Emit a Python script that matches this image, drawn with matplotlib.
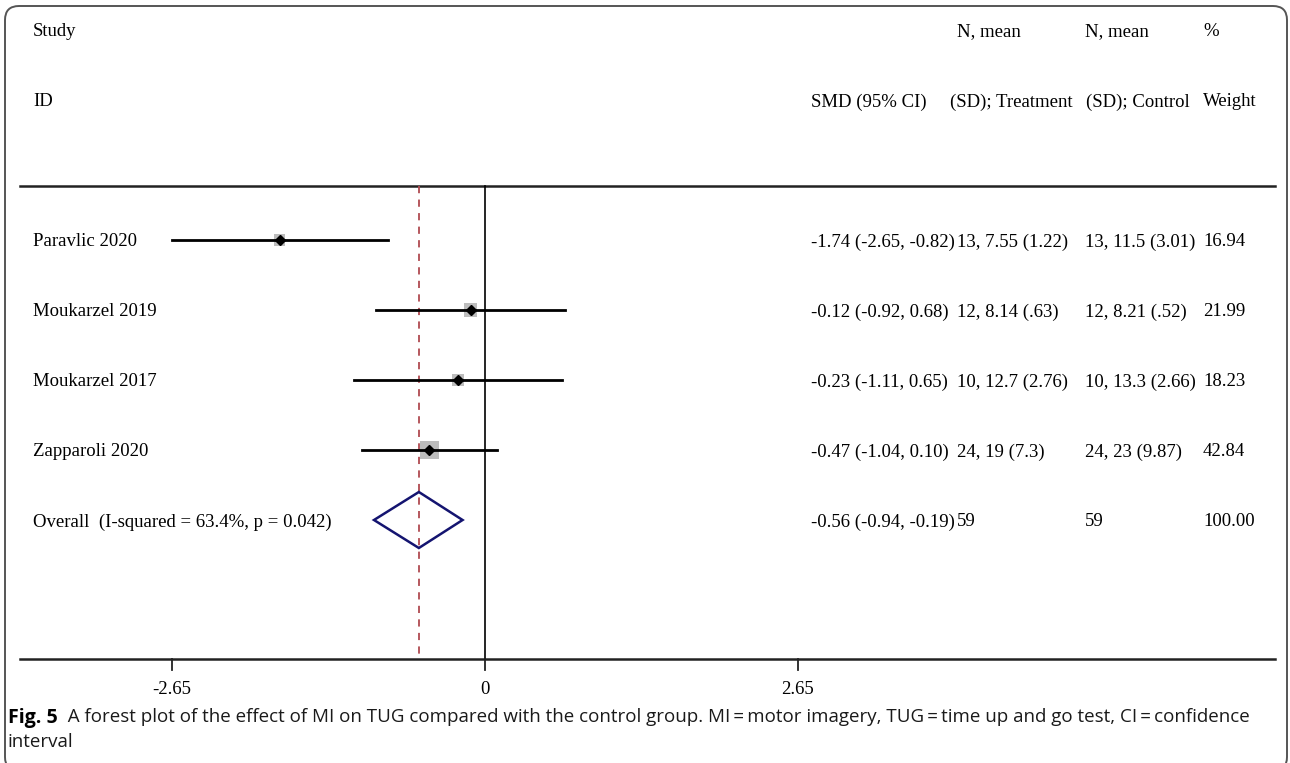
import matplotlib
matplotlib.use("Agg")
import matplotlib.pyplot as plt
from matplotlib.patches import FancyBboxPatch, Polygon, Rectangle
from matplotlib.transforms import IdentityTransform
from matplotlib import font_manager

# data
studies = ["Paravlic 2020", "Moukarzel 2019", "Moukarzel 2017", "Zapparoli 2020"]
smd = [-1.74, -0.12, -0.23, -0.47]
ci_low = [-2.65, -0.92, -1.11, -1.04]
ci_high = [-0.82, 0.68, 0.65, 0.10]
treatment = ["13, 7.55 (1.22)", "12, 8.14 (.63)", "10, 12.7 (2.76)", "24, 19 (7.3)"]
control = ["13, 11.5 (3.01)", "12, 8.21 (.52)", "10, 13.3 (2.66)", "24, 23 (9.87)"]
weights = [16.94, 21.99, 18.23, 42.84]

overall_label = "Overall  (I-squared = 63.4%, p = 0.042)"
overall_smd = -0.56
overall_low = -0.94
overall_high = -0.19
overall_n_treat = "59"
overall_n_ctrl = "59"
overall_weight = "100.00"

tick_values = [-2.65, 0, 2.65]
tick_labels = ["-2.65", "0", "2.65"]

caption_bold = "Fig. 5"
caption_text = ("  A forest plot of the effect of MI on TUG compared with the control group. "
                "MI\u2009=\u2009motor imagery, TUG\u2009=\u2009time up and go test, CI\u2009=\u2009confidence")
caption_line2 = "interval"

SERIF = "Liberation Serif"
installed = {f.name for f in font_manager.fontManager.ttflist}
CAP_FONT = [f for f in ["Liberation Sans Narrow", "DejaVu Sans Condensed", "Open Sans", "DejaVu Sans"]
            if f in installed]

W, H = 1290, 763
fig = plt.figure(figsize=(W / 100, H / 100), dpi=100)
ax = fig.add_axes([0, 0, 1, 1])
ax.axis("off")

# pixel -> data: x = (px - 485) / 118.1 , row = (py - 240) / 70
sx, x0 = 118.1, 485
ax.set_xlim((0 - x0) / sx, (W - x0) / sx)
ax.set_ylim((H - 240) / 70, (0 - 240) / 70)


def px(p):
    return (p - x0) / sx


def py(p):
    return (p - 240) / 70


# rounded frame (display pixels, origin bottom-left)
frame = FancyBboxPatch((5, -8), 1282, H - 6 + 8, boxstyle="round,pad=0,rounding_size=14",
                       transform=IdentityTransform(), fill=False, ec="#555555", lw=1.4,
                       clip_on=False)
fig.add_artist(frame)

fs = 13.5
VA = "center_baseline"
# headers
ax.text(px(33), py(30), "Study", fontsize=fs, family=SERIF, va=VA)
ax.text(px(33), py(100), "ID", fontsize=fs, family=SERIF, va=VA)
ax.text(px(811), py(100), "SMD (95% CI)", fontsize=fs, family=SERIF, va=VA)
ax.text(px(957), py(30), "N, mean", fontsize=fs, family=SERIF, va=VA)
ax.text(px(950), py(100), "(SD); Treatment", fontsize=fs, family=SERIF, va=VA)
ax.text(px(1085), py(30), "N, mean", fontsize=fs, family=SERIF, va=VA)
ax.text(px(1086), py(100), "(SD); Control", fontsize=fs, family=SERIF, va=VA)
ax.text(px(1203), py(30), "%", fontsize=fs, family=SERIF, va=VA)
ax.text(px(1203), py(100), "Weight", fontsize=fs, family=SERIF, va=VA)

# horizontal rules
ax.plot([px(20), px(1275)], [py(186), py(186)], color="#222222", lw=1.8)
ax.plot([px(20), px(1275)], [py(659), py(659)], color="#222222", lw=1.8)

# null line and overall effect line
ax.plot([0, 0], [py(186), py(659)], color="black", lw=1.2)
ax.plot([overall_smd, overall_smd], [py(186), py(659)], color="#b04a50", lw=1.3,
        dashes=(4, 3.5))

# studies
for i, name in enumerate(studies):
    ax.text(px(33), i, name, fontsize=fs, family=SERIF, va=VA)
    ax.plot([ci_low[i], ci_high[i]], [i, i], color="black", lw=2, zorder=3)
    side = 2.8 * weights[i] ** 0.5
    ax.add_patch(Rectangle((smd[i] - side / 2 / sx, i - side / 2 / 70), side / sx, side / 70,
                           facecolor="#bdbdbd", edgecolor="none", zorder=2))
    ax.plot(smd[i], i, marker="D", ms=4.6, color="black", zorder=4)
    smd_txt = f"{smd[i]:.2f} ({ci_low[i]:.2f}, {ci_high[i]:.2f})"
    ax.text(px(811), i, smd_txt, fontsize=fs, family=SERIF, va=VA)
    ax.text(px(957), i, treatment[i], fontsize=fs, family=SERIF, va=VA)
    ax.text(px(1085), i, control[i], fontsize=fs, family=SERIF, va=VA)
    ax.text(px(1203), i, f"{weights[i]:.2f}", fontsize=fs, family=SERIF, va=VA)

# overall
k = len(studies)
ax.text(px(33), k, overall_label, fontsize=fs, family=SERIF, va=VA)
ax.add_patch(Polygon([[overall_low, k], [overall_smd, k - 0.4], [overall_high, k],
                      [overall_smd, k + 0.4]], closed=True, fill=False,
                     edgecolor="#141470", lw=1.8, zorder=3))
ax.text(px(811), k, f"{overall_smd:.2f} ({overall_low:.2f}, {overall_high:.2f})",
        fontsize=fs, family=SERIF, va=VA)
ax.text(px(957), k, overall_n_treat, fontsize=fs, family=SERIF, va=VA)
ax.text(px(1085), k, overall_n_ctrl, fontsize=fs, family=SERIF, va=VA)
ax.text(px(1203), k, overall_weight, fontsize=fs, family=SERIF, va=VA)

# x ticks
for v, lab in zip(tick_values, tick_labels):
    ax.plot([v, v], [py(659), py(670)], color="#222222", lw=1.3)
    ax.text(v, py(688), lab, fontsize=fs, family=SERIF, ha="center", va=VA)

# caption
cfs = 13.5
t = ax.text(px(8), py(715), caption_bold, fontsize=cfs + 0.6, family=CAP_FONT, weight="bold",
            va=VA, color="black")
ax.annotate(caption_text, xycoords=t, xy=(1, 0.5), va="center", fontsize=cfs,
            family=CAP_FONT, color="#1a1a1a")
ax.text(px(8), py(740), caption_line2, fontsize=cfs, family=CAP_FONT, va=VA,
        color="#1a1a1a")

fig.savefig("out.png", dpi=100)
